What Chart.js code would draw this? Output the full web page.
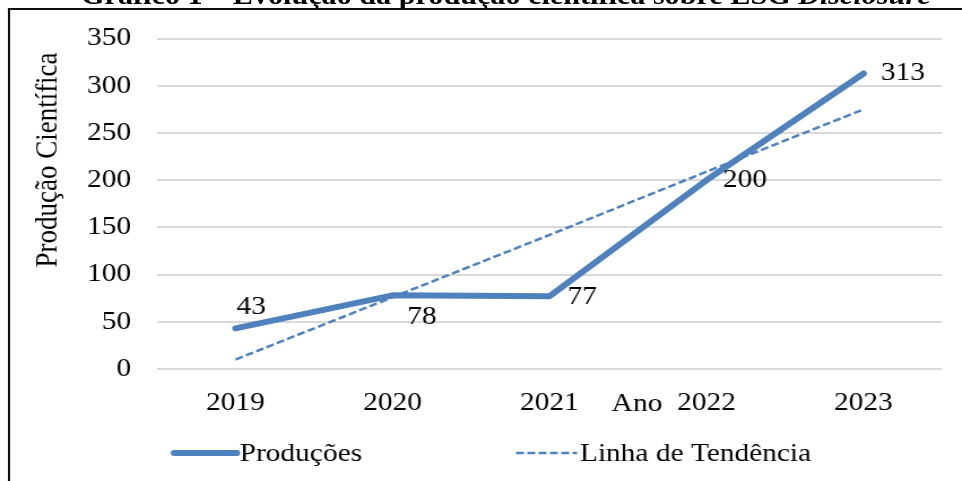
<!DOCTYPE html>
<html>
<head>
<meta charset="utf-8">
<script src="https://cdn.jsdelivr.net/npm/chart.js@4.4.1/dist/chart.umd.min.js"></script>
<style>
  html, body { margin: 0; padding: 0; background: #fff; overflow: hidden; }
  #wrap {
    position: absolute; left: 0; top: 0; width: 851px; height: 481px;
    transform: scaleX(1.1304); transform-origin: 0 0; overflow: hidden;
  }
  #title {
    position: absolute; left: 0; top: -18px; width: 895px; text-align: center;
    white-space: nowrap; font: bold 26.7px/26px "Liberation Serif", "Times New Roman", serif; color: #000;
  }
  .edge { position: absolute; background: #111; }
  #edgeTop { left: 6.5px; top: 8px; width: 900px; height: 2px; }
  #edgeLeft { left: 6.5px; top: 8px; width: 2px; height: 480px; }
  canvas { position: absolute; left: 0; top: 0; }
</style>
</head>
<body>
<div id="wrap">
  <canvas id="chart" width="851" height="481"></canvas>
  <div id="title">Gráfico 1 – Evolução da produção científica sobre ESG <i>Disclosure</i></div>
  <div class="edge" id="edgeTop"></div>
  <div class="edge" id="edgeLeft"></div>
</div>
<script>
// values
const anos = ['2019', '2020', '2021', '2022', '2023'];
const producoes = [43, 78, 77, 200, 313];
const tendencia = [10, 76, 142, 209, 275];   // dashed trend line, as drawn
const yMin = 0, yMax = 350, yStep = 50;

const azul = '#4F81BD';
const serif = '"Liberation Serif", "Times New Roman", serif';

// where each value label sits relative to its point (dx, dy), like the original
const labelOffsets = [[14, -21], [26, 22], [29, 1], [34, 0], [35, 0]];

// data labels, axis captions and the legend
const extras = {
  id: 'extras',
  afterDraw(chart) {
    const ctx = chart.ctx;
    const meta = chart.getDatasetMeta(0);
    ctx.save();
    ctx.font = '26px ' + serif;
    ctx.fillStyle = '#000';
    ctx.textAlign = 'center';
    ctx.textBaseline = 'middle';
    meta.data.forEach((pt, i) => {
      const [dx, dy] = labelOffsets[i];
      ctx.fillText(String(producoes[i]), pt.x + dx, pt.y + dy);
    });

    // x caption sits among the tick labels in the original
    ctx.fillText('Ano', 563.5, 404);

    // y caption, rotated, a bit above the middle of the axis
    ctx.save();
    ctx.translate(42.5, 160);
    ctx.rotate(-Math.PI / 2);
    ctx.font = '27px ' + serif;
    ctx.fillText('Produção Científica', 0, 0);
    ctx.restore();

    // legend
    const items = [
      { ds: chart.data.datasets[0], x1: 154, x2: 209.5, tx: 212 },
      { ds: chart.data.datasets[1], x1: 456.5, x2: 510.5, tx: 513 }
    ];
    const ly = 453;
    items.forEach(it => {
      ctx.beginPath();
      ctx.strokeStyle = it.ds.borderColor;
      ctx.lineWidth = it.ds.borderWidth;
      ctx.lineCap = it.ds.borderDash.length ? 'butt' : 'round';
      ctx.setLineDash(it.ds.borderDash);
      ctx.moveTo(it.x1, ly);
      ctx.lineTo(it.x2, ly);
      ctx.stroke();
      ctx.setLineDash([]);
      ctx.textAlign = 'left';
      ctx.fillText(it.ds.label, it.tx, ly + 1);
    });
    ctx.restore();
  }
};

new Chart(document.getElementById('chart'), {
  type: 'line',
  data: {
    labels: anos,
    datasets: [
      {
        label: 'Produções',
        data: producoes,
        borderColor: azul,
        backgroundColor: azul,
        borderWidth: 6,
        borderDash: [],
        borderCapStyle: 'round',
        borderJoinStyle: 'round',
        pointRadius: 0,
        tension: 0,
        order: 1
      },
      {
        label: 'Linha de Tendência',
        data: tendencia,
        borderColor: azul,
        backgroundColor: azul,
        borderWidth: 2.5,
        borderDash: [7, 3],
        pointRadius: 0,
        tension: 0,
        order: 2
      }
    ]
  },
  options: {
    responsive: false,
    animation: false,
    devicePixelRatio: 1,
    layout: { padding: { left: 0, right: 17.7, top: 37, bottom: 0 } },
    plugins: {
      legend: { display: false },
      tooltip: { enabled: false }
    },
    scales: {
      x: {
        type: 'category',
        offset: true,
        grid: { display: false },
        border: { display: false },
        ticks: { color: '#000', font: { family: serif, size: 26 }, padding: 11, maxRotation: 0 },
        afterFit: s => { s.height = 112; }
      },
      y: {
        min: yMin,
        max: yMax,
        grid: { color: '#d9d9d9', lineWidth: 2, drawTicks: false },
        border: { display: false },
        ticks: { stepSize: yStep, color: '#000', font: { family: serif, size: 26 }, padding: 23 },
        afterFit: s => { s.width = 138.9; }
      }
    }
  },
  plugins: [extras]
});
</script>
</body>
</html>
